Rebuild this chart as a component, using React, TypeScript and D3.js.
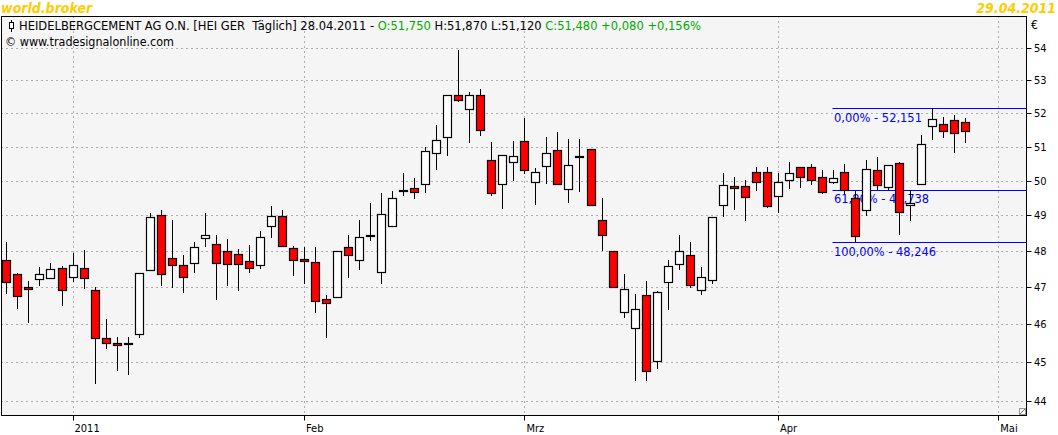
import React from 'react';
import * as d3 from 'd3';

// daily candles, 22.12.2010 .. 28.04.2011 (index 6 = first trading day 2011)
const openP = [
  47.74, 47.36, 47.0, 47.22, 47.24, 47.52, 47.28, 47.52, 46.92, 45.63,
  45.5, 45.5, 45.73, 47.48, 49.02, 47.8, 47.61, 47.66, 48.35, 48.19,
  47.99, 47.91, 47.72, 47.61, 48.69, 48.99, 48.07, 47.78, 47.69, 46.69,
  46.72, 48.12, 47.74, 48.44, 47.41, 48.71, 49.7, 49.79, 49.91, 50.81,
  51.29, 52.55, 52.12, 52.55, 50.62, 49.91, 50.55, 51.17, 49.96, 50.43,
  50.9, 49.76, 50.72, 50.94, 48.88, 47.99, 46.33, 45.89, 46.78, 45.04,
  47.14, 47.63, 47.88, 46.92, 47.19, 49.29, 49.84, 49.85, 50.26, 50.24,
  49.56, 50.02, 50.4, 50.4, 50.11, 49.96, 50.26, 49.51, 49.17, 50.31,
  49.82, 50.52, 49.29, 49.91, 51.62, 51.68, 51.81, 51.75,
];
const highP = [
  48.25, 47.4, 47.17, 47.55, 47.66, 47.59, 47.95, 48.03, 47.0, 46.14,
  45.66, 45.66, 47.39, 49.08, 49.17, 48.86, 47.89, 48.25, 49.08, 48.44,
  48.33, 48.05, 48.17, 48.55, 49.28, 49.17, 48.13, 48.1, 48.1, 46.79,
  48.0, 48.44, 48.88, 49.37, 49.65, 49.71, 50.22, 50.09, 50.99, 51.64,
  52.55, 53.94, 52.64, 52.73, 51.14, 50.74, 51.18, 51.85, 50.38, 51.28,
  51.45, 51.24, 51.24, 50.94, 49.51, 48.0, 47.36, 46.81, 47.17, 46.89,
  47.74, 48.46, 48.24, 47.55, 48.96, 50.22, 50.11, 50.02, 50.41, 50.39,
  50.22, 50.56, 50.41, 50.49, 50.31, 50.31, 50.49, 49.71, 50.62, 50.7,
  50.46, 50.55, 49.73, 51.35, 52.151, 51.88, 51.94, 51.87,
];
const lowP = [
  46.82, 46.41, 46.02, 47.04, 47.24, 46.48, 47.15, 46.95, 44.43, 45.33,
  44.76, 44.66, 45.64, 47.48, 47.02, 46.99, 46.85, 47.4, 48.1, 46.64,
  47.04, 46.91, 47.38, 47.5, 48.35, 48.1, 47.32, 47.1, 46.29, 45.64,
  46.72, 47.26, 47.48, 48.28, 47.08, 48.71, 49.55, 49.46, 49.64, 50.3,
  50.71, 52.34, 51.1, 51.31, 49.55, 49.18, 49.99, 50.2, 49.31, 49.91,
  49.91, 49.35, 49.66, 49.27, 48.0, 46.97, 46.17, 44.5, 44.5, 44.81,
  46.38, 47.47, 46.97, 46.78, 47.08, 48.96, 49.17, 48.85, 49.7, 49.22,
  49.06, 49.76, 49.79, 49.88, 49.62, 49.9, 49.62, 48.246, 48.99, 49.73,
  49.73, 48.45, 48.85, 49.91, 51.21, 51.25, 50.81, 51.12,
];
const closeP = [
  47.14, 46.75, 46.95, 47.36, 47.5, 46.92, 47.61, 47.25, 45.63, 45.5,
  45.45, 45.51, 47.39, 48.97, 47.36, 47.61, 47.28, 48.1, 48.44, 47.66,
  47.63, 47.63, 47.52, 48.38, 48.99, 48.13, 47.74, 47.72, 46.62, 46.56,
  47.99, 47.88, 48.38, 48.46, 49.05, 49.51, 49.72, 49.68, 50.87, 51.2,
  52.55, 52.4, 52.55, 51.51, 49.65, 50.74, 50.71, 50.31, 50.26, 50.81,
  49.91, 50.46, 50.73, 49.31, 48.45, 47.0, 46.94, 46.41, 44.76, 46.86,
  47.58, 47.99, 47.06, 47.28, 48.96, 49.88, 49.78, 49.53, 49.96, 49.26,
  49.96, 50.22, 50.11, 50.02, 49.68, 50.08, 49.73, 48.43, 50.34, 49.88,
  50.46, 49.11, 49.35, 51.08, 51.84, 51.47, 51.4, 51.48,
];

const yTicks = [44, 45, 46, 47, 48, 49, 50, 51, 52, 53, 54];
const monthLabels = ['2011', 'Feb', 'Mrz', 'Apr', 'Mai'];
const monthIdx = [6, 27, 47, 70, 90];

const fibLabels = ['0,00% - 52,151', '61,80% - 49,738', '100,00% - 48,246'];
const fibValues = [52.151, 49.738, 48.246];
const fibWidths = [88, 95, 102];
const fibStart = 75;

const W = 1058;
const H = 435;
const left = 1.5;
const right = 1026.5;
const top = 16.5;
const bottom = 415.5;

const gridColor = '#666';
const fibColor = '#0000ff';
const green = '#00aa00';
const font = "Tahoma, 'DejaVu Sans Condensed', 'DejaVu Sans', sans-serif";

export default function App() {
  const x = d3.scaleLinear().domain([0, 90]).range([6.4, 998.3]);
  const y = d3.scaleLog().domain([44, 54]).range([400.7, 48.3]);
  const px = (v: number) => Math.round(v) + 0.5;

  const candles = openP.map((o, i) => ({ o, h: highP[i], l: lowP[i], c: closeP[i], i }));

  return (
    <svg width={W} height={H} style={{ position: 'absolute', left: 0, top: 0, background: '#fff' }}
      fontFamily={font}>
      <rect x={left} y={top} width={right - left} height={bottom - top} fill="#f5f5f5" />

      {/* grid */}
      {yTicks.map(t => (
        <line key={'hg' + t} x1={left} x2={right} y1={px(y(t))} y2={px(y(t))}
          stroke={gridColor} strokeDasharray="1 4" />
      ))}
      {monthIdx.map((m, k) => (
        <line key={'vg' + k} x1={px(x(m))} x2={px(x(m))} y1={top} y2={bottom}
          stroke={gridColor} strokeDasharray="1 4" />
      ))}

      {/* header */}
      <g>
        <line x1={11.5} x2={11.5} y1={20} y2={32} stroke="#000" />
        <rect x={9.5} y={22.5} width={4} height={6} fill="#fff" stroke="#000" />
      </g>
      <text x={19} y={30} fontSize={11.5} textLength={682} lengthAdjust="spacingAndGlyphs"
        style={{ whiteSpace: 'pre' }}>
        <tspan fill="#000">{'HEIDELBERGCEMENT AG O.N. [HEI GER  Täglich] 28.04.2011 - '}</tspan>
        <tspan fill={green}>O:51,750</tspan>
        <tspan fill="#000">{' H:51,870 L:51,120 '}</tspan>
        <tspan fill={green}>C:51,480 +0,080 +0,156%</tspan>
      </text>
      <text x={5} y={46} fontSize={11.5} fill="#000" textLength={169}
        lengthAdjust="spacingAndGlyphs">© www.tradesignalonline.com</text>

      {/* fibonacci */}
      {fibValues.map((v, k) => (
        <g key={'fib' + k}>
          <line x1={x(fibStart) - 0.5} x2={right} y1={px(y(v))} y2={px(y(v))} stroke={fibColor} />
          <text x={x(fibStart) + 1} y={y(v) + 13.5} fontSize={12} fill={fibColor}
            textLength={fibWidths[k]} lengthAdjust="spacingAndGlyphs">{fibLabels[k]}</text>
        </g>
      ))}

      {/* candles */}
      {candles.map(d => {
        const cx = Math.round(x(d.i)) + 0.5;
        const up = d.c >= d.o;
        const yt = Math.round(y(Math.max(d.o, d.c))) + 0.5;
        const yb = Math.round(y(Math.min(d.o, d.c))) + 0.5;
        return (
          <g key={'c' + d.i}>
            <line x1={cx} x2={cx} y1={Math.round(y(d.h))} y2={Math.round(y(d.l))} stroke="#000" />
            <rect x={cx - 4} y={yt} width={8} height={Math.max(1, yb - yt)}
              fill={up ? '#fff' : '#ff0000'} stroke="#000" strokeWidth={1.2} />
          </g>
        );
      })}

      {/* frame */}
      <rect x={left} y={top} width={right - left} height={bottom - top} fill="none" stroke="#000" />
      <rect x={1019.5} y={408.5} width={6} height={6} fill="#fff" stroke="#999" />
      <line x1={1020} x2={1025} y1={414} y2={409} stroke="#777" />

      {/* y axis */}
      {yTicks.map(t => (
        <g key={'yl' + t}>
          <line x1={right} x2={right + 5} y1={px(y(t))} y2={px(y(t))} stroke="#000" />
          <text x={1034} y={y(t) + 4} fontSize={11} fill="#000">{t}</text>
        </g>
      ))}
      <text x={1031} y={29} fontSize={12} fill="#000">€</text>

      {/* x axis */}
      {monthIdx.map((m, k) => (
        <g key={'xl' + k}>
          <line x1={px(x(m))} x2={px(x(m))} y1={bottom} y2={bottom + 5} stroke="#000" />
          <text x={x(m) + 2} y={431.5} fontSize={11} fill="#000">{monthLabels[k]}</text>
        </g>
      ))}

      {/* titles */}
      <text x={1} y={13} fontSize={14} fontWeight="bold" fontStyle="italic" fill="#ffcc00">world.broker</text>
      <text x={1056} y={13} fontSize={14} fontWeight="bold" fontStyle="italic" fill="#ffcc00"
        textAnchor="end">29.04.2011</text>
    </svg>
  );
}
